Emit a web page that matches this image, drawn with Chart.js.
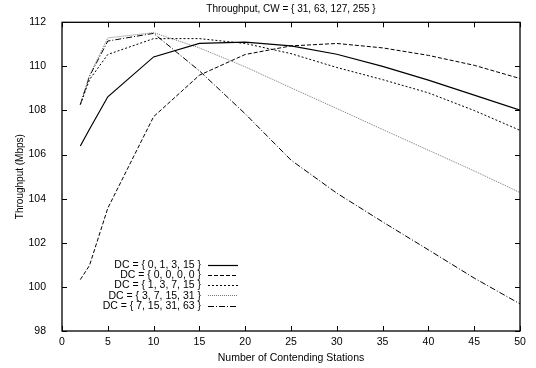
<!DOCTYPE html>
<html>
<head>
<meta charset="utf-8">
<script src="https://cdn.jsdelivr.net/npm/chart.js@4"></script>
<style>
  html, body { margin: 0; padding: 0; background: #fff; }
  #wrap { width: 536px; height: 368px; }
</style>
</head>
<body>
<div id="wrap"><canvas id="chart" width="536" height="368"></canvas></div>
<script>
// Data
var stations = [2, 3, 5, 10, 15, 20, 25, 30, 35, 40, 45, 50];
var dc_0_1_3_15   = [106.39, 107.15, 108.62, 110.43, 111.04, 111.1, 110.93, 110.55, 110.0, 109.38, 108.7, 108.02];
var dc_0_0_0_0    = [100.33, 100.97, 103.57, 107.72, 109.6, 110.54, 110.93, 111.04, 110.84, 110.5, 110.05, 109.45];
var dc_1_3_7_15   = [108.27, 109.4, 110.54, 111.26, 111.26, 111.04, 110.58, 109.95, 109.4, 108.8, 108.0, 107.1];
var dc_3_7_15_31  = [108.27, 109.6, 111.29, 111.53, 110.84, 109.98, 109.03, 108.09, 107.14, 106.2, 105.26, 104.28];
var dc_7_15_31_63 = [108.27, 109.55, 111.15, 111.5, 109.8, 107.85, 105.75, 104.25, 102.95, 101.68, 100.4, 99.23];

var xTicks = [0, 5, 10, 15, 20, 25, 30, 35, 40, 45, 50];
var yTicks = [98, 100, 102, 104, 106, 108, 110, 112];

var FONT = 'Liberation Sans, Arial, Helvetica, sans-serif';

function points(values) {
    return values.map(function(v, i) { return { x: stations[i], y: v }; });
}

function series(label, values, dash, color, width) {
    return {
        label: label,
        data: points(values),
        borderColor: color,
        borderWidth: width,
        borderDash: dash,
        pointRadius: 0,
        fill: false,
        tension: 0
    };
}

// frame, inward ticks on all sides, title and gnuplot-style legend
var gnuplotDecor = {
    id: 'gnuplotDecor',
    afterDraw: function(chart) {
        var ctx = chart.ctx;
        var a = chart.chartArea;
        var xs = chart.scales.x, ys = chart.scales.y;
        ctx.save();
        ctx.strokeStyle = '#000';
        ctx.lineWidth = 1;
        ctx.setLineDash([]);
        ctx.beginPath();
        xTicks.forEach(function(v) {
            var px = Math.round(xs.getPixelForValue(v)) + 0.5;
            ctx.moveTo(px, a.bottom); ctx.lineTo(px, a.bottom - 5);
            ctx.moveTo(px, a.top); ctx.lineTo(px, a.top + 5);
        });
        yTicks.forEach(function(v) {
            var py = Math.round(ys.getPixelForValue(v)) + 0.5;
            ctx.moveTo(a.left, py); ctx.lineTo(a.left + 5, py);
            ctx.moveTo(a.right, py); ctx.lineTo(a.right - 5, py);
        });
        ctx.stroke();
        ctx.lineWidth = 1.3;
        ctx.strokeRect(a.left, a.top, a.right - a.left, a.bottom - a.top);

        // title
        ctx.fillStyle = '#000';
        ctx.font = '10px ' + FONT;
        ctx.textAlign = 'center';
        ctx.textBaseline = 'middle';
        ctx.fillText('Throughput, CW = { 31, 63, 127, 255 }', (a.left + a.right) / 2, 9);

        // legend
        ctx.font = '10.5px ' + FONT;
        ctx.textAlign = 'right';
        chart.data.datasets.forEach(function(ds, i) {
            var y = 264.5 + i * 10.3;
            ctx.fillStyle = '#000';
            ctx.fillText(ds.label, 201, y + 0.5);
            ctx.strokeStyle = ds.borderColor;
            ctx.lineWidth = ds.borderWidth;
            ctx.setLineDash(ds.borderDash);
            ctx.beginPath();
            ctx.moveTo(208, Math.round(y) + 0.5);
            ctx.lineTo(238, Math.round(y) + 0.5);
            ctx.stroke();
        });
        ctx.restore();
    }
};

var chart = new Chart(document.getElementById('chart'), {
    type: 'line',
    data: {
        datasets: [
            series('DC = { 0, 1, 3, 15 }', dc_0_1_3_15, [], '#000', 1.2),
            series('DC = { 0, 0, 0, 0 }', dc_0_0_0_0, [4, 2], '#000', 1),
            series('DC = { 1, 3, 7, 15 }', dc_1_3_7_15, [2, 2], '#000', 1),
            series('DC = { 3, 7, 15, 31 }', dc_3_7_15_31, [1, 1], '#777', 1),
            series('DC = { 7, 15, 31, 63 }', dc_7_15_31_63, [6, 2, 1, 2], '#000', 1)
        ]
    },
    options: {
        responsive: false,
        animation: false,
        devicePixelRatio: 1,
        layout: { padding: { left: 14, top: 22, right: 16, bottom: 4 } },
        plugins: {
            legend: { display: false },
            tooltip: { enabled: false },
            title: { display: false }
        },
        scales: {
            x: {
                type: 'linear',
                min: 0,
                max: 50,
                afterBuildTicks: function(s) { s.ticks = xTicks.map(function(v) { return { value: v }; }); },
                afterFit: function(s) { s.height = 33; },
                grid: { display: false, drawTicks: false },
                border: { display: false },
                ticks: { color: '#000', padding: 5, maxRotation: 0, font: { family: FONT, size: 10.5 } },
                title: {
                    display: true,
                    text: 'Number of Contending Stations',
                    color: '#000',
                    padding: 0,
                    font: { family: FONT, size: 10.5 }
                }
            },
            y: {
                type: 'linear',
                min: 98,
                max: 112,
                afterBuildTicks: function(s) { s.ticks = yTicks.map(function(v) { return { value: v }; }); },
                afterFit: function(s) { s.width = 48; },
                grid: { display: false, drawTicks: false },
                border: { display: false },
                ticks: { color: '#000', padding: 16, font: { family: FONT, size: 10.5 } },
                title: {
                    display: true,
                    text: 'Throughput (Mbps)',
                    color: '#000',
                    padding: 0,
                    font: { family: FONT, size: 10 }
                }
            }
        }
    },
    plugins: [gnuplotDecor]
});
</script>
</body>
</html>
